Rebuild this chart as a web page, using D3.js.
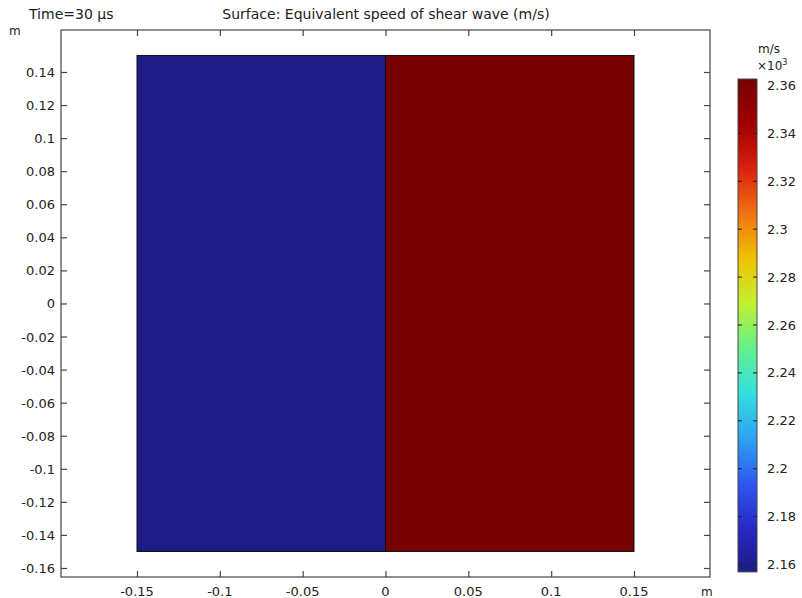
<!DOCTYPE html>
<html>
<head>
<meta charset="utf-8">
<script src="https://cdn.jsdelivr.net/npm/d3@7"></script>
<style>
  body { margin: 0; background: #fff; }
  text { font-family: "DejaVu Sans", sans-serif; fill: #222; }
</style>
</head>
<body>
<script>
// domains of the model and their value (m/s)
const regionNames = ['left', 'right']
const regionX0 = [-0.15, 0]
const regionX1 = [0, 0.15]
const regionY0 = [-0.15, -0.15]
const regionY1 = [0.15, 0.15]
const regionValue = [2156.7, 2362.5]

const xTicks = [-0.15, -0.1, -0.05, 0, 0.05, 0.1, 0.15]
const yTicks = [-0.16, -0.14, -0.12, -0.1, -0.08, -0.06, -0.04, -0.02, 0, 0.02, 0.04, 0.06, 0.08, 0.1, 0.12, 0.14]
const cbTicks = [2.16, 2.18, 2.2, 2.22, 2.24, 2.26, 2.28, 2.3, 2.32, 2.34, 2.36]
const cbMin = 2.1567
const cbMax = 2.3625

// rainbow colour stops, bottom to top
const rainbow = ['#1c1c84', '#2828c8', '#2e5af0', '#2ca4f2', '#34e0e0', '#64f08c',
  '#c4f030', '#f0c200', '#f07212', '#dc2010', '#a00000', '#780000']

const width = 802
const height = 598
const svg = d3.select('body').append('svg')
  .attr('width', width).attr('height', height)

const plotLeft = 61, plotRight = 710, plotTop = 30, plotBottom = 577

const x = d3.scaleLinear().domain([-0.15, 0.15]).range([137, 634])
const y = d3.scaleLinear().domain([-0.16, 0.14]).range([568, 72])

const colorScale = d3.scaleLinear()
  .domain(d3.range(rainbow.length).map(i => cbMin + (cbMax - cbMin) * i / (rainbow.length - 1)))
  .range(rainbow)
  .interpolate(d3.interpolateRgb)

// regions
svg.selectAll('rect.region')
  .data(regionNames)
  .enter()
  .append('rect')
  .attr('class', 'region')
  .attr('x', (d, i) => x(regionX0[i]))
  .attr('y', (d, i) => y(regionY1[i]))
  .attr('width', (d, i) => x(regionX1[i]) - x(regionX0[i]))
  .attr('height', (d, i) => y(regionY0[i]) - y(regionY1[i]))
  .attr('fill', (d, i) => colorScale(regionValue[i] / 1000))
  .attr('stroke', '#111')
  .attr('stroke-width', 1)

// frame
svg.append('rect')
  .attr('x', plotLeft).attr('y', plotTop)
  .attr('width', plotRight - plotLeft).attr('height', plotBottom - plotTop)
  .attr('fill', 'none').attr('stroke', '#444').attr('stroke-width', 1.2)

// plain hyphen minus like the original
const fmt = d => String(+d.toFixed(2))

// axes with inward ticks
svg.append('g').attr('transform', `translate(0,${plotBottom})`)
  .call(d3.axisTop(x).tickValues(xTicks).tickSize(6).tickFormat(''))
  .call(g => g.select('.domain').remove())
svg.append('g').attr('transform', `translate(0,${plotTop})`)
  .call(d3.axisBottom(x).tickValues(xTicks).tickSize(6).tickFormat(''))
  .call(g => g.select('.domain').remove())
svg.append('g').attr('transform', `translate(${plotLeft},0)`)
  .call(d3.axisRight(y).tickValues(yTicks).tickSize(6).tickFormat(''))
  .call(g => g.select('.domain').remove())
svg.append('g').attr('transform', `translate(${plotRight},0)`)
  .call(d3.axisLeft(y).tickValues(yTicks).tickSize(6).tickFormat(''))
  .call(g => g.select('.domain').remove())
svg.selectAll('.tick line').attr('stroke', '#444').attr('stroke-width', 1.2)

svg.selectAll('text.xl')
  .data(xTicks).enter().append('text')
  .attr('x', d => x(d)).attr('y', 596)
  .attr('text-anchor', 'middle').attr('font-size', 13)
  .text(fmt)
svg.selectAll('text.yl')
  .data(yTicks).enter().append('text')
  .attr('x', 55).attr('y', d => y(d) + 5)
  .attr('text-anchor', 'end').attr('font-size', 13)
  .text(fmt)

svg.append('text').attr('x', 9).attr('y', 35).attr('font-size', 12).text('m')
svg.append('text').attr('x', 701).attr('y', 596).attr('font-size', 12).text('m')

// titles
svg.append('text').attr('x', 29).attr('y', 19).attr('font-size', 14).text('Time=30 μs')
svg.append('text').attr('x', 386).attr('y', 19).attr('font-size', 14)
  .attr('text-anchor', 'middle').text('Surface: Equivalent speed of shear wave (m/s)')

// colour bar
const cbX = 738, cbW = 19
const cy = d3.scaleLinear().domain([2.16, 2.36]).range([564, 85])
const defs = svg.append('defs')
const grad = defs.append('linearGradient').attr('id', 'cbgrad')
  .attr('x1', 0).attr('y1', 1).attr('x2', 0).attr('y2', 0)
grad.selectAll('stop').data(rainbow).enter().append('stop')
  .attr('offset', (d, i) => i / (rainbow.length - 1))
  .attr('stop-color', d => d)
svg.append('rect')
  .attr('x', cbX).attr('y', cy(cbMax)).attr('width', cbW)
  .attr('height', cy(cbMin) - cy(cbMax))
  .attr('fill', 'url(#cbgrad)').attr('stroke', '#444').attr('stroke-width', 1)

svg.append('g').attr('transform', `translate(${cbX},0)`)
  .call(d3.axisRight(cy).tickValues(cbTicks).tickSize(4).tickFormat(''))
  .call(g => g.select('.domain').remove())
  .selectAll('line').attr('stroke', '#222')
svg.append('g').attr('transform', `translate(${cbX + cbW},0)`)
  .call(d3.axisLeft(cy).tickValues(cbTicks).tickSize(4).tickFormat(''))
  .call(g => g.select('.domain').remove())
  .selectAll('line').attr('stroke', '#222')

svg.selectAll('text.cl')
  .data(cbTicks).enter().append('text')
  .attr('x', 767).attr('y', d => cy(d) + 5)
  .attr('font-size', 13)
  .text(fmt)

svg.append('text').attr('x', 758).attr('y', 53).attr('font-size', 12).text('m/s')
const mult = svg.append('text').attr('x', 757).attr('y', 70).attr('font-size', 12)
mult.append('tspan').text('×10')
mult.append('tspan').attr('dy', -5).attr('font-size', 8).text('3')
</script>
</body>
</html>
